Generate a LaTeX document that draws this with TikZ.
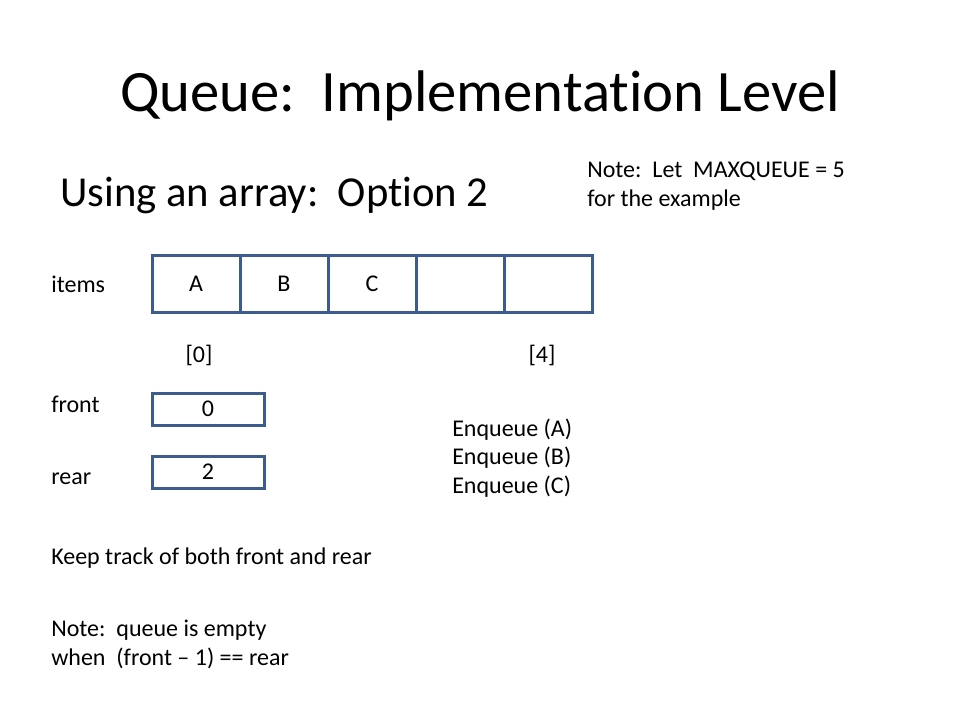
\documentclass[tikz,border=0pt]{standalone}
\usepackage{fontspec}
\setmainfont{Carlito}[Ligatures={NoCommon}]
\definecolor{boxblue}{HTML}{3B5C8C}
\begin{document}
\begin{tikzpicture}[x=0.75pt,y=-0.75pt,
  cell/.style={draw=boxblue,line width=2.25pt,minimum width=88*0.75pt,minimum height=56*0.75pt,inner sep=0pt,font=\fontsize{18}{22}\selectfont},
  small/.style={draw=boxblue,line width=2.25pt,minimum width=112*0.75pt,minimum height=32*0.75pt,inner sep=0pt,font=\fontsize{18}{22}\selectfont},
  lbl/.style={anchor=base west,inner sep=0pt,font=\fontsize{18}{22}\selectfont},
  lblc/.style={anchor=base,inner sep=0pt,font=\fontsize{18}{22}\selectfont}]
\useasboundingbox[fill=white] (0,0) rectangle (960,720);
% title
\node[anchor=base,inner sep=0pt,font=\fontsize{44}{52}\selectfont] (title) at (480,112) {Queue:\ \ Implementation Level};
\node[anchor=base west,inner sep=0pt,font=\fontsize{32}{38}\selectfont] (sub) at (60,207) {Using an array:\ \ Option 2};
\node[lbl] (note1) at (587,178) {Note:\ \ Let\ \ MAXQUEUE = 5};
\node[lbl] (note2) at (587,207) {for the example};
% array
\node[cell] (c0) at (196,284) {A};
\node[cell] (c1) at (284,284) {B};
\node[cell] (c2) at (372,284) {C};
\node[cell] (c3) at (460,284) {};
\node[cell] (c4) at (548,284) {};
\node[lbl] (items) at (51,292) {items};
\node[lblc] (i0) at (199,362) {[0]};
\node[lblc] (i4) at (542,362) {[4]};
% front / rear
\node[lbl] (frontl) at (51,412) {front};
\node[small] (front) at (208,409) {0};
\node[lbl] (rearl) at (51,484) {rear};
\node[small] (rear) at (208,472) {2};
% enqueue
\node[lbl] (e1) at (452,436) {Enqueue (A)};
\node[lbl] (e2) at (452,464) {Enqueue (B)};
\node[lbl] (e3) at (452,493) {Enqueue (C)};
% notes
\node[lbl] (keep) at (51,564) {Keep track of both front and rear};
\node[lbl] (n1) at (51,636) {Note:\ \ queue is empty};
\node[lbl] (n2) at (51,665) {when\ \ (front -- 1) == rear};
\end{tikzpicture}
\end{document}
